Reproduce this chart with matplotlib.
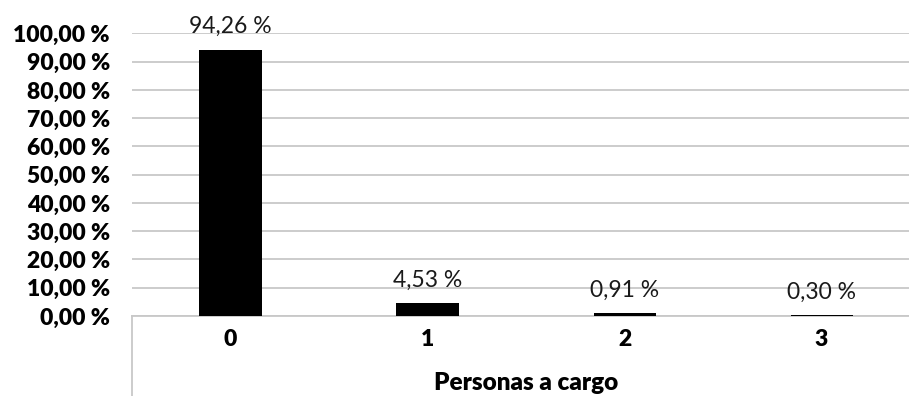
import matplotlib
matplotlib.use("Agg")
import matplotlib.pyplot as plt
from matplotlib.lines import Line2D
from matplotlib.ticker import MultipleLocator, FuncFormatter

categories = ["0", "1", "2", "3"]
percentages = [94.26, 4.53, 0.91, 0.30]
x_title = "Personas a cargo"

FONT = "Lato"

def fmt_pct(v, decimals=2):
    return f"{v:.{decimals}f}".replace(".", ",") + " %"

fig = plt.figure(figsize=(9.09, 3.96), dpi=100)
ax = fig.add_axes([0.1452, 0.202, 0.867, 0.7135])

positions = range(len(categories))
bars = ax.bar(positions, percentages, width=0.315, color="black", zorder=3)

ax.set_xlim(-0.5, len(categories) - 0.5)
ax.set_ylim(0, 100)
ax.yaxis.set_major_locator(MultipleLocator(10))
ax.yaxis.set_major_formatter(FuncFormatter(lambda v, _: fmt_pct(v)))
ax.grid(axis="y", color="#c8c8c8", linewidth=1.3, zorder=0)
ax.set_axisbelow(True)

for side in ("top", "right", "left"):
    ax.spines[side].set_visible(False)
ax.spines["bottom"].set_color("#c8c8c8")
ax.spines["bottom"].set_linewidth(1.3)

ax.set_xticks(list(positions))
ax.set_xticklabels(categories)
ax.tick_params(axis="both", length=0)
ax.tick_params(axis="x", pad=9)
ax.tick_params(axis="y", pad=16)
for lbl in ax.get_xticklabels() + ax.get_yticklabels():
    lbl.set_fontfamily(FONT)
    lbl.set_fontweight("heavy")
    lbl.set_fontsize(16.5)

# vertical divider on the left edge of the category area
ax.add_line(Line2D([0, 0], [0, -0.3], transform=ax.transAxes, color="#c8c8c8",
                   linewidth=1.3, clip_on=False))

for rect, val in zip(bars, percentages):
    ax.annotate(fmt_pct(val), (rect.get_x() + rect.get_width() / 2, val),
                xytext=(0, 12), textcoords="offset points", ha="center",
                va="baseline", fontsize=16.5, fontfamily=FONT, fontweight="normal",
                color="#1a1a1a")

ax.set_xlabel(x_title, fontfamily=FONT, fontweight="heavy", fontsize=17.5, labelpad=16)

fig.savefig("out.png", dpi=100)
